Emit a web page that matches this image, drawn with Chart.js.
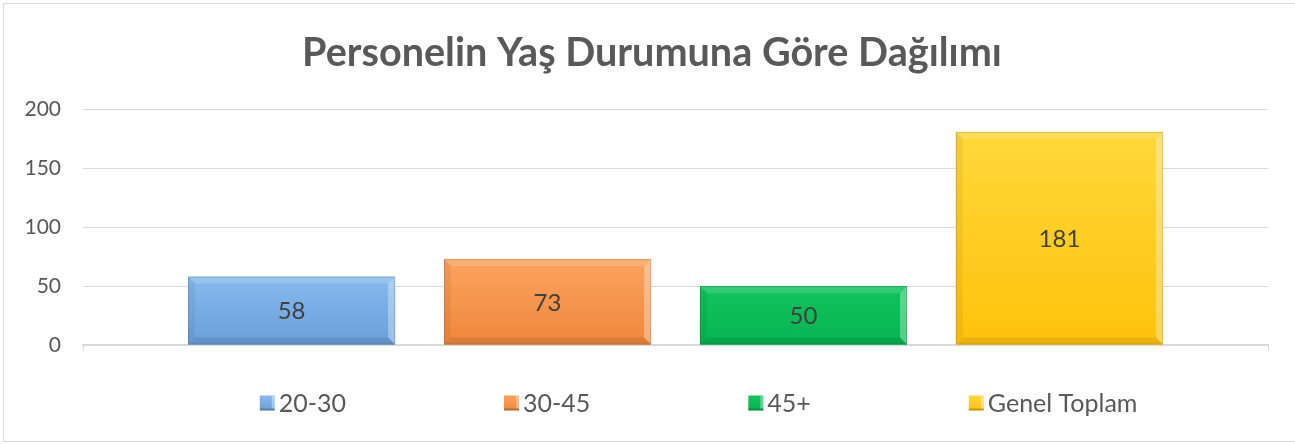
<!DOCTYPE html>
<html>
<head>
<meta charset="utf-8">
<script src="https://cdn.jsdelivr.net/npm/chart.js@4"></script>
<style>
  html, body { margin: 0; padding: 0; background: #fff; overflow: hidden; }
  #box {
    position: absolute; left: 3px; top: 3px;
    width: 1291px; height: 437px;
    border: 1px solid #d9d9d9;
  }
</style>
</head>
<body>
<div id="box"><canvas id="chart"></canvas></div>
<script>
const categories = [''];
const seriesNames = ['20-30', '30-45', '45+', 'Genel Toplam'];
const seriesValues = [58, 73, 50, 181];
const yTicks = [0, 50, 100, 150, 200];

// top / bottom shade of each series fill
const topColors = ['#86baee', '#fca35f', '#10c45c', '#ffd83a'];
const bottomColors = ['#6a9fd8', '#ef873b', '#07b552', '#ffc20c'];

const textColor = '#595959';
const fontFamily = 'Lato, "Open Sans", sans-serif';

// gradient fill + bevel edges + value label for every bar
const bevelBars = {
  id: 'bevelBars',
  afterLayout(chart) {
    // the title sits centred on the whole box, not on the shifted plot
    if (chart.titleBlock) chart.titleBlock.left += 32;
  },
  afterDatasetsDraw(chart) {
    const ctx = chart.ctx;
    chart.data.datasets.forEach((ds, di) => {
      const meta = chart.getDatasetMeta(di);
      meta.data.forEach((bar, i) => {
        const p = bar.getProps(['x', 'y', 'base', 'width'], true);
        const L = p.x - p.width / 2, R = p.x + p.width / 2;
        const T = Math.min(p.y, p.base), B = Math.max(p.y, p.base);
        const b = 7;
        ctx.save();
        const g = ctx.createLinearGradient(0, T, 0, B);
        g.addColorStop(0, topColors[di]);
        g.addColorStop(1, bottomColors[di]);
        ctx.fillStyle = g;
        ctx.fillRect(L, T, R - L, B - T);

        const poly = (pts, col) => {
          ctx.beginPath();
          ctx.moveTo(pts[0][0], pts[0][1]);
          pts.slice(1).forEach(q => ctx.lineTo(q[0], q[1]));
          ctx.closePath();
          ctx.fillStyle = col;
          ctx.fill();
        };
        poly([[L, T], [R, T], [R - b, T + b], [L + b, T + b]], 'rgba(255,255,255,0.14)');
        poly([[R, T], [R, B], [R - b, B - b], [R - b, T + b]], 'rgba(255,255,255,0.32)');
        poly([[L, B], [R, B], [R - b, B - b], [L + b, B - b]], 'rgba(0,0,0,0.09)');
        poly([[L, T], [L, B], [L + b, B - b], [L + b, T + b]], 'rgba(0,0,0,0.05)');
        ctx.strokeStyle = 'rgba(0,0,0,0.13)';
        ctx.lineWidth = 1;
        ctx.strokeRect(L + 0.5, T + 0.5, R - L - 1, B - T - 1);

        ctx.fillStyle = '#404040';
        ctx.font = '24px ' + fontFamily;
        ctx.textAlign = 'center';
        ctx.textBaseline = 'middle';
        ctx.fillText(ds.data[i], p.x, (T + B) / 2 + 1);
        ctx.restore();
      });
    });
  }
};

// legend spread like the office one: box, label, wide gap
const wideLegend = {
  id: 'wideLegend',
  afterDraw(chart) {
    const ctx = chart.ctx;
    const box = 15, gap = 4, spacing = 158;
    ctx.save();
    ctx.font = '25px ' + fontFamily;
    const widths = seriesNames.map(n => box + gap + ctx.measureText(n).width);
    const total = widths.reduce((a, w) => a + w, 0) + spacing * (seriesNames.length - 1);
    let x = chart.width * 0.538 - total / 2;
    const y = chart.chartArea.bottom + 58;
    seriesNames.forEach((name, i) => {
      const g = ctx.createLinearGradient(0, y - box / 2, 0, y + box / 2);
      g.addColorStop(0, topColors[i]);
      g.addColorStop(1, bottomColors[i]);
      ctx.fillStyle = g;
      ctx.fillRect(x, y - box / 2, box, box);
      ctx.fillStyle = 'rgba(0,0,0,0.22)';
      ctx.fillRect(x, y + box / 2 - 2, box, 2);
      ctx.fillStyle = 'rgba(255,255,255,0.35)';
      ctx.fillRect(x + box - 3, y - box / 2, 3, box - 2);
      ctx.fillStyle = textColor;
      ctx.textAlign = 'left';
      ctx.textBaseline = 'middle';
      ctx.fillText(name, x + box + gap, y + 1);
      x += widths[i] + spacing;
    });
    ctx.restore();
  }
};

const chart = new Chart(document.getElementById('chart'), {
  type: 'bar',
  data: {
    labels: categories,
    datasets: seriesNames.map((name, i) => ({
      label: name,
      data: [seriesValues[i]],
      backgroundColor: bottomColors[i],
      borderWidth: 0,
      categoryPercentage: 0.864,
      barPercentage: 0.809
    }))
  },
  options: {
    responsive: true,
    maintainAspectRatio: false,
    animation: false,
    layout: { padding: { left: 0, right: 27, top: 0, bottom: 90 } },
    plugins: {
      legend: { display: false },
      tooltip: { enabled: false },
      title: {
        display: true,
        text: 'Personelin Yaş Durumuna Göre Dağılımı',
        color: textColor,
        font: { family: fontFamily, size: 39.6, weight: 'bold' },
        padding: { top: 25, bottom: 33 }
      }
    },
    scales: {
      x: {
        grid: { display: true, drawOnChartArea: false, drawTicks: true, tickLength: 6, color: '#d9d9d9', offset: true },
        border: { display: true, color: '#d9d9d9', width: 2 },
        ticks: { display: false }
      },
      y: {
        min: yTicks[0],
        max: yTicks[yTicks.length - 1],
        afterBuildTicks: (scale) => { scale.ticks = yTicks.map(v => ({ value: v })); },
        afterFit: (scale) => { scale.width = 79; },
        grid: { color: '#d9d9d9', drawTicks: false },
        border: { display: false },
        ticks: { color: textColor, padding: 22, font: { family: fontFamily, size: 21 } }
      }
    }
  },
  plugins: [bevelBars, wideLegend]
});
</script>
</body>
</html>
